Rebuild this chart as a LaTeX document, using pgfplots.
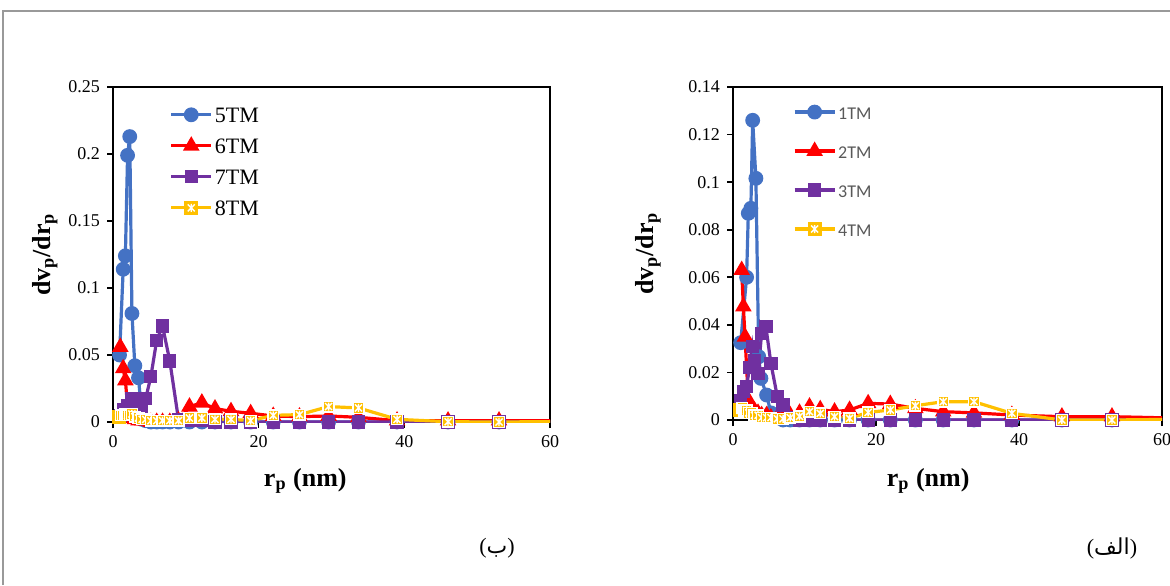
\documentclass[border=0pt]{standalone}
\usepackage{fontspec}
\setmainfont{Liberation Serif}
\newfontfamily\calibri{Carlito}
\newfontfamily\arabicfont[Script=Arabic]{DejaVu Sans}
\usepackage{pgfplots}
\pgfplotsset{compat=1.18}
\TeXXeTstate=1
\definecolor{cblue}{HTML}{4472C4}
\definecolor{cred}{HTML}{FF0000}
\definecolor{cpurple}{HTML}{7030A0}
\definecolor{cyellow}{HTML}{FFC000}
\definecolor{legtext}{HTML}{595959}
\pgfdeclareplotmark{sqx}{%
  \pgfpathrectangle{\pgfpoint{-\pgfplotmarksize}{-\pgfplotmarksize}}{\pgfpoint{2\pgfplotmarksize}{2\pgfplotmarksize}}%
  \pgfusepathqfillstroke
  \pgfsetstrokecolor{white}%
  \pgfsetlinewidth{0.7pt}%
  \pgfpathmoveto{\pgfpoint{-0.65\pgfplotmarksize}{-0.65\pgfplotmarksize}}\pgfpathlineto{\pgfpoint{0.65\pgfplotmarksize}{0.65\pgfplotmarksize}}%
  \pgfpathmoveto{\pgfpoint{-0.65\pgfplotmarksize}{0.65\pgfplotmarksize}}\pgfpathlineto{\pgfpoint{0.65\pgfplotmarksize}{-0.65\pgfplotmarksize}}%
  \pgfpathmoveto{\pgfpoint{0pt}{-0.75\pgfplotmarksize}}\pgfpathlineto{\pgfpoint{0pt}{0.75\pgfplotmarksize}}%
  \pgfusepathqstroke
}
\pgfplotsset{
  common/.style={
    scale only axis, xmin=0, xmax=60, ymin=0,
    xtick={0,20,40,60},
    xtick pos=bottom, ytick pos=left,
    tick align=outside, major tick length=3pt,
    axis line style={line width=1.3pt},
    tick style={black, line width=0.8pt},
    ticklabel style={font=\fontsize{9}{10}\selectfont},
    /pgf/number format/assume math mode=true,
    /pgf/number format/fixed,
    every axis plot/.append style={line width=1.6pt},
    legend cell align=left,
    legend image code/.code={\draw[mark repeat=2,mark phase=2] plot coordinates {(0pt,0pt)(10pt,0pt)(20pt,0pt)};},
    label style={font=\fontsize{13}{14}\selectfont\bfseries},
  },
  s1/.style={color=cblue, mark=*, mark size=2.9pt},
  s2/.style={color=cred, mark=triangle*, mark size=3.2pt},
  s3/.style={color=cpurple, mark=square*, mark size=2.5pt},
  s4/.style={color=cyellow, mark=sqx, mark size=2.7pt, mark options={fill=cyellow, draw=cyellow}},
}
\begin{document}
\begin{tikzpicture}[x=1pt,y=1pt]
\path[use as bounding box] (0pt,0pt) rectangle (585pt,292.5pt);
\draw[gray!80, line width=1pt] (1.5pt,0pt) -- (1.5pt,287pt) -- (585pt,287pt);

% Left panel (b)
\begin{axis}[common, at={(56.5pt,81.5pt)}, anchor=south west,
  width=218.5pt, height=167.5pt, ymax=0.25,
  ytick={0,0.05,0.1,0.15,0.2,0.25},
  xlabel={r\textsubscript{p} (nm)}, ylabel={dv\textsubscript{p}/dr\textsubscript{p}},
  xlabel style={at={(axis description cs:0.44,-0.176)}, anchor=center},
  ylabel style={at={(axis description cs:-0.156,0.5)}, anchor=center},
  legend style={at={(axis description cs:0.115,0.96)}, anchor=north west, draw=none, fill=none,
    font=\fontsize{11}{12}\selectfont, row sep=5.5pt,
    nodes={inner sep=1pt, text height=8pt, text depth=0pt}},
]
\addplot[s1] coordinates {(0.9,0.05)(1.4,0.114)(1.7,0.124)(2.0,0.199)(2.3,0.213)(2.6,0.081)(3.0,0.042)(3.5,0.033)(4.0,0.002)(4.5,0.001)(5.2,0)(6.0,0)(6.8,0)(7.8,0)(9.0,0)(10.5,0)(12.2,0)(14.0,0)(16.2,0)(18.9,0)(22,0)(25.6,0)(29.6,0)(33.7,0)(39,0)(46,0)(53,0)(65,0)};
\addplot[s2] coordinates {(1.0,0.056)(1.4,0.040)(1.7,0.031)(2.0,0.012)(2.3,0.005)(2.6,0.003)(3.0,0.002)(3.5,0.001)(4.0,0.001)(4.5,0.001)(5.2,0)(6.0,0)(6.8,0)(7.8,0)(9.0,0.001)(10.5,0.0114)(12.2,0.0144)(14.0,0.010)(16.2,0.008)(18.9,0.0065)(22,0.0045)(25.6,0.004)(29.6,0.0045)(33.7,0.0035)(39,0.001)(46,0.001)(53,0.001)(65,0.001)};
\addplot[s3] coordinates {(1.0,0.005)(1.4,0.009)(2.0,0.012)(2.6,0.0177)(3.2,0.015)(3.9,0.010)(4.5,0.0177)(5.2,0.034)(6.0,0.061)(6.8,0.0716)(7.8,0.0455)(9.0,0.0015)(10.5,0.001)(12.2,0.001)(14.0,0)(16.2,0)(18.9,0)(22,0)(25.6,0)(29.6,0)(33.7,0)(39,0)(46,0)(53,0)(65,0)};
\addplot[s4] coordinates {(0.8,0.004)(1.1,0.005)(1.4,0.005)(1.7,0.006)(2.0,0.005)(2.3,0.005)(2.6,0.006)(3.0,0.004)(3.5,0.003)(4.0,0.002)(4.5,0.002)(5.2,0.001)(6.0,0.001)(6.8,0.001)(7.8,0.001)(9.0,0.001)(10.5,0.003)(12.2,0.003)(14.0,0.002)(16.2,0.002)(18.9,0.001)(22,0.005)(25.6,0.0055)(29.6,0.0115)(33.7,0.0105)(39,0.002)(46,0.0002)(53,0)(65,0.0005)};
\legend{5TM,6TM,7TM,8TM}
\end{axis}
\node[font=\fontsize{11}{12}\selectfont] at (248.5pt,18.5pt) {({\arabicfont\beginR ب\endR})};

% Right panel (alef)
\begin{axis}[common, at={(366.5pt,82.5pt)}, anchor=south west,
  width=214.5pt, height=166.5pt, ymax=0.14,
  ytick={0,0.02,0.04,0.06,0.08,0.1,0.12,0.14},
  xlabel={r\textsubscript{p} (nm)}, ylabel={dv\textsubscript{p}/dr\textsubscript{p}},
  xlabel style={at={(axis description cs:0.455,-0.183)}, anchor=center},
  ylabel style={at={(axis description cs:-0.198,0.5)}, anchor=center},
  legend style={at={(axis description cs:0.125,0.965)}, anchor=north west, draw=none, fill=none,
    font=\calibri\fontsize{9}{10}\selectfont\color{legtext}, row sep=10.5pt,
    nodes={inner sep=1pt, text height=7pt, text depth=0pt}},
]
\addplot[s1] coordinates {(1.07,0.0325)(1.9,0.060)(2.14,0.0869)(2.5,0.089)(2.75,0.126)(3.2,0.1016)(3.6,0.0266)(3.9,0.0175)(4.7,0.0105)(5.3,0.003)(6.2,0.001)(7.0,0)(8.0,0)(9.3,0)(10.7,0)(12.2,0)(14.2,0)(16.3,0)(18.9,0)(22,0)(25.5,0)(29.4,0)(33.7,0)(39,0)(46,0)(53,0)(65,0)};
\addplot[s2] coordinates {(1.21,0.063)(1.45,0.0477)(1.68,0.035)(2.14,0.0084)(2.5,0.006)(3.0,0.004)(3.5,0.003)(4.0,0.002)(4.7,0.002)(5.3,0.001)(6.2,0.001)(7.0,0.001)(8.0,0.002)(9.3,0.003)(10.7,0.0056)(12.2,0.0045)(14.2,0.0035)(16.3,0.0042)(18.9,0.007)(22,0.0067)(25.5,0.0049)(29.4,0.0035)(33.7,0.003)(39,0.0021)(46,0.0014)(53,0.0014)(65,0.0006)};
\addplot[s3] coordinates {(1.1,0.008)(1.5,0.012)(1.9,0.014)(2.3,0.022)(2.7,0.031)(3.0,0.025)(3.5,0.0196)(4.0,0.0364)(4.6,0.0392)(5.3,0.0238)(6.2,0.0098)(7.0,0.0063)(8.0,0.001)(9.3,0)(10.7,0)(12.2,0)(14.2,0)(16.3,0)(18.9,0)(22,0)(25.5,0)(29.4,0)(33.7,0)(39,0)(46,0)(53,0)(65,0)};
\addplot[s4] coordinates {(1.0,0.004)(1.3,0.005)(1.6,0.004)(1.9,0.004)(2.2,0.003)(2.6,0.003)(3.0,0.002)(3.5,0.002)(4.0,0.001)(4.7,0.001)(5.3,0.001)(6.2,0.0005)(7.0,0.0005)(8.0,0.001)(9.3,0.0015)(10.7,0.0035)(12.2,0.0028)(14.2,0.0014)(16.3,0.0007)(18.9,0.0032)(22,0.0042)(25.5,0.006)(29.4,0.0077)(33.7,0.0077)(39,0.0028)(46,0)(53,0)(65,0.0004)};
\legend{1TM,2TM,3TM,4TM}
\end{axis}
\node[font=\fontsize{11}{12}\selectfont] at (556pt,18.5pt) {({\arabicfont\beginR الف\endR})};
\end{tikzpicture}
\end{document}
